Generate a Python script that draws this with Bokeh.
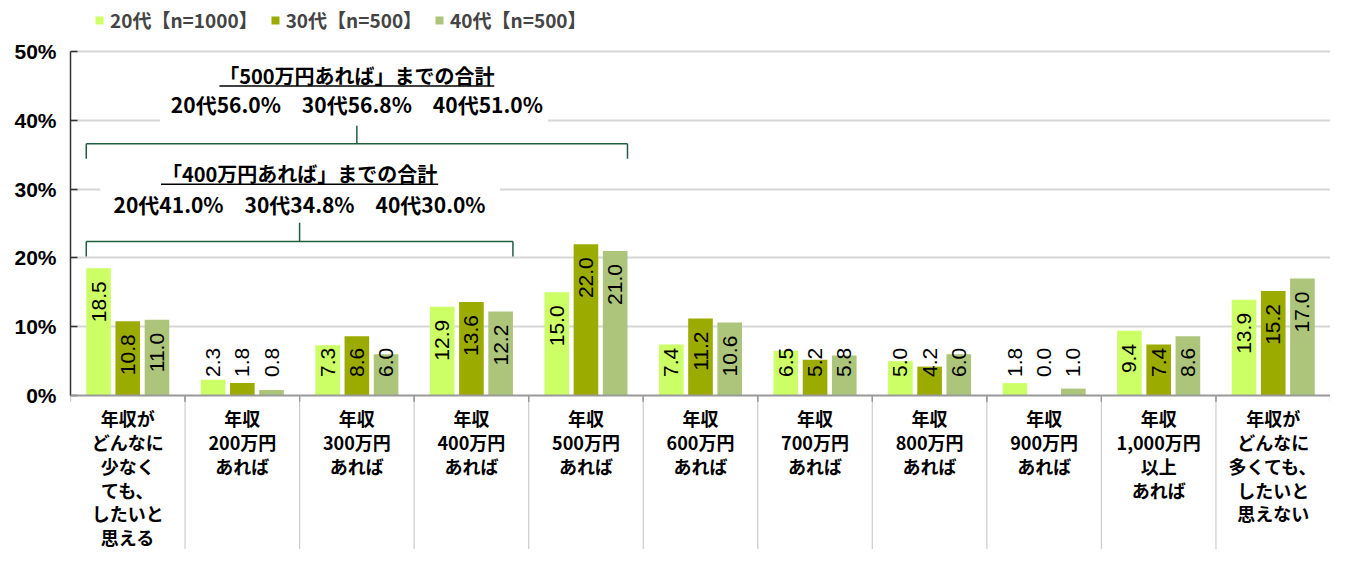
import math
from bokeh.plotting import figure
from bokeh.models import (ColumnDataSource, FactorRange, Range1d, FixedTicker, Span,
                          Legend, LegendItem, PrintfTickFormatter)
from bokeh.transform import dodge
from bokeh.core.properties import value
from bokeh.embed import file_html
from bokeh.resources import INLINE

# ---------------- data ----------------
categories = [
    "年収が\nどんなに\n少なく\nても、\nしたいと\n思える",
    "年収\n200万円\nあれば",
    "年収\n300万円\nあれば",
    "年収\n400万円\nあれば",
    "年収\n500万円\nあれば",
    "年収\n600万円\nあれば",
    "年収\n700万円\nあれば",
    "年収\n800万円\nあれば",
    "年収\n900万円\nあれば",
    "年収\n1,000万円\n以上\nあれば",
    "年収が\nどんなに\n多くても、\nしたいと\n思えない",
]
series_names = ["20代【n=1000】", "30代【n=500】", "40代【n=500】"]
age_names = ["20代", "30代", "40代"]
v20 = [18.5, 2.3, 7.3, 12.9, 15.0, 7.4, 6.5, 5.0, 1.8, 9.4, 13.9]
v30 = [10.8, 1.8, 8.6, 13.6, 22.0, 11.2, 5.2, 4.2, 0.0, 7.4, 15.2]
v40 = [11.0, 0.8, 6.0, 12.2, 21.0, 10.6, 5.8, 6.0, 1.0, 8.6, 17.0]
y_ticks = [0, 10, 20, 30, 40, 50]
colors = ["#CCFF66", "#9CAB00", "#ADC57A"]

JP = "Noto Sans CJK JP"
LAT = "Liberation Sans"

W, H = 1330, 549
LEFT = 70
ZERO_Y = 395          # pixel row of 0 %
PX_PER_UNIT = 344 / 50.0
Y_MAX = ZERO_Y / PX_PER_UNIT
Y_MIN = -(H - ZERO_Y) / PX_PER_UNIT

p = figure(x_range=FactorRange(factors=categories), y_range=Range1d(Y_MIN, Y_MAX),
           frame_width=W - LEFT, frame_height=H,
           min_border_left=LEFT, min_border_right=0, min_border_top=0, min_border_bottom=0,
           x_axis_location=None, output_backend="svg", toolbar_location=None)
p.outline_line_color = None
p.background_fill_color = "white"
p.border_fill_color = "white"

# axes / grid
p.xgrid.visible = False
p.ygrid.ticker = FixedTicker(ticks=y_ticks[1:])
p.ygrid.grid_line_color = "#d6d6d6"
p.ygrid.grid_line_width = 2
yax = p.yaxis[0]
yax.ticker = FixedTicker(ticks=y_ticks)
yax.bounds = (0, 50)
yax.formatter = PrintfTickFormatter(format="%d%%")
yax.axis_line_color = "#333333"
yax.axis_line_width = 1.5
yax.major_tick_in = 7
yax.major_tick_out = 0
yax.major_tick_line_color = "#333333"
yax.major_tick_line_width = 1.5
yax.minor_tick_line_color = None
yax.major_label_standoff = 14
yax.major_label_text_font = LAT
yax.major_label_text_font_size = "21px"
yax.major_label_text_font_style = "bold"
yax.major_label_text_color = "black"

# x axis line at 0
p.add_layout(Span(location=0, dimension="width", line_color="#999999", line_width=2))

src = ColumnDataSource(dict(cat=categories, v20=v20, v30=v30, v40=v40))

# separators below the axis
sep_src = ColumnDataSource(dict(cat=categories[1:]))
p.segment(x0=dodge("cat", -0.5, range=p.x_range), y0=0,
          x1=dodge("cat", -0.5, range=p.x_range), y1=Y_MIN,
          source=sep_src, line_color="#999999", line_width=1.2, line_dash="1 1")
tick_src = ColumnDataSource(dict(cat=categories))
for off in (-0.5, 0.5):
    p.segment(x0=dodge("cat", off, range=p.x_range), y0=0,
              x1=dodge("cat", off, range=p.x_range), y1=-0.9,
              source=tick_src, line_color="#999999", line_width=1.2)

# masks for annotation boxes (hide gridlines)
p.quad(left=[0.78, 0.26], right=[4.17, 3.75], bottom=[39.7, 26.6], top=[48.7, 34.2],
       fill_color="white", line_color=None)

# bars
offsets = [-0.255, 0.0, 0.255]
keys = ["v20", "v30", "v40"]
bar_rs = []
for key, off, col in zip(keys, offsets, colors):
    r = p.vbar(x=dodge("cat", off, range=p.x_range), top=key, width=0.215,
               source=src, fill_color=col, line_color=None)
    bar_rs.append(r)

# value labels
for key, off, vals in zip(keys, offsets, [v20, v30, v40]):
    labs = [f"{v:.1f}" for v in vals]
    lens = [(11 * (len(s) - 1) + 5) / PX_PER_UNIT for s in labs]
    ys = [max(v - 1.9, 3.0 + l) for v, l in zip(vals, lens)]
    lsrc = ColumnDataSource(dict(cat=categories, y=ys, t=labs))
    p.text(x=dodge("cat", off, range=p.x_range), y="y", text="t", source=lsrc,
           angle=math.pi / 2, text_align="right", text_baseline="middle",
           text_font=value(LAT), text_font_size="21px", text_color="black")

# category labels
p.text(x="cat", y=-1.35, text="cat", source=tick_src, text_align="center",
       text_baseline="top", text_font=value(JP), text_font_size="18px",
       text_font_style="bold", text_line_height=0.92, text_color="black")

# brackets
def bracket(last_idx, y_line, y_end, y_tick):
    left = 0 + 0.5 + offsets[0] - 0.1075
    right = last_idx + 0.5 + offsets[2] + 0.1075
    mid = (left + right) / 2
    p.segment(x0=[left, left, right, mid], y0=[y_end, y_line, y_line, y_line],
              x1=[left, right, right, mid], y1=[y_line, y_line, y_end, y_tick],
              line_color="#1f5f3f", line_width=1.5)
    return mid

def sums(vals, last_idx):
    return sum(vals[: last_idx + 1])

def annotation(last_idx, head, y_head, y_line2, y_ul, ul_half):
    mid = bracket(last_idx, *BR[last_idx])
    parts = [f"{a}{sums(v, last_idx):.1f}%" for a, v in zip(age_names, [v20, v30, v40])]
    p.text(x=[mid], y=[y_head], text=[head], text_align="center", text_baseline="middle",
           text_font=value(JP), text_font_size="20px", text_font_style="bold",
           text_color="black")
    p.text(x=[mid], y=[y_line2], text=["\u3000".join(parts)], text_align="center",
           text_baseline="middle", text_font=value(JP), text_font_size="21px",
           text_font_style="bold", text_color="black")
    p.segment(x0=[mid - ul_half], y0=[y_ul], x1=[mid + ul_half], y1=[y_ul],
              line_color="black", line_width=1.5)

BR = {4: (36.6, 34.4, 39.2), 3: (22.4, 20.2, 25.1)}
annotation(4, "「500万円あれば」までの合計", 46.5, 42.4, 45.0, 1.2)
annotation(3, "「400万円あれば」までの合計", 32.3, 27.9, 30.7, 1.21)

# legend (inside the frame, above the 50 % line)
legend = Legend(items=[LegendItem(label=n, renderers=[r]) for n, r in zip(series_names, bar_rs)],
                orientation="horizontal", location=(24, H - 33),
                glyph_width=10, glyph_height=10, label_standoff=6, spacing=12,
                padding=0, margin=0, border_line_color=None, background_fill_alpha=0,
                label_text_font=JP, label_text_font_size="19px",
                label_text_font_style="bold", label_height=19)
p.add_layout(legend)

open("out.html", "w").write(file_html(p, INLINE))
